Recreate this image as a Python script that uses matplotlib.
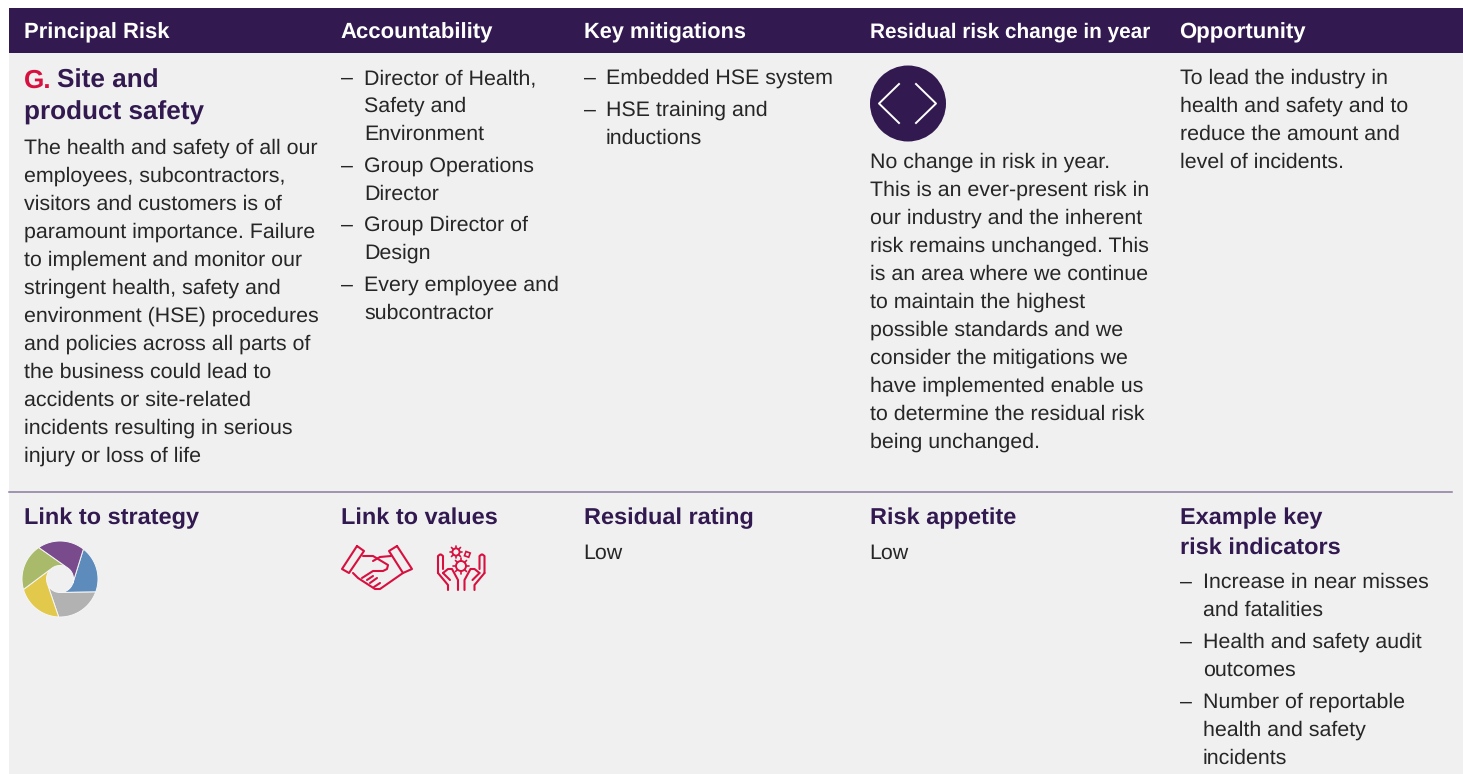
import numpy as np
import matplotlib
matplotlib.use("Agg")
import matplotlib.pyplot as plt
from matplotlib.patches import Rectangle, Polygon, Circle

PURPLE = "#321a50"
RED = "#d7103f"
INK = "#262626"
BG = "#f0f0f0"

headers = ["Principal Risk", "Accountability", "Key mitigations", "Residual risk change in year", "Opportunity"]
header_x = [24, 340.5, 584, 870, 1179.5]
header_size = [15.8, 15.9, 15.7, 14.95, 15.9]

intro = ["The health and safety of all our", "employees, subcontractors,", "visitors and customers is of",
         "paramount importance. Failure", "to implement and monitor our", "stringent health, safety and",
         "environment (HSE) procedures", "and policies across all parts of", "the business could lead to",
         "accidents or site-related", "incidents resulting in serious", "injury or loss of life"]
intro_y = [147, 175, 203, 231, 259, 287, 315, 343, 371, 399, 427, 455]

account = [("–", 341, 77), ("Director of Health,", 364, 77), ("Safety and", 364, 105), ("Environment", 364, 133),
           ("–", 341, 165), ("Group Operations", 364, 165), ("Director", 364, 193),
           ("–", 341, 224), ("Group Director of", 364, 224), ("Design", 364, 252),
           ("–", 341, 284), ("Every employee and", 364, 284), ("subcontractor", 364, 312)]
mitig = [("–", 584, 77), ("Embedded HSE system", 606, 77),
         ("–", 584, 109), ("HSE training and", 606, 109), ("inductions", 606, 137)]
change = ["No change in risk in year.", "This is an ever-present risk in", "our industry and the inherent",
          "risk remains unchanged. This", "is an area where we continue", "to maintain the highest",
          "possible standards and we", "consider the mitigations we", "have implemented enable us",
          "to determine the residual risk", "being unchanged."]
change_y = [161, 189, 217, 245, 273, 301, 329, 357, 385, 413, 441]
opportunity = ["To lead the industry in", "health and safety and to", "reduce the amount and", "level of incidents."]
opportunity_y = [77, 105, 133, 161]

low_heads = [("Link to strategy", 24), ("Link to values", 341), ("Residual rating", 584), ("Risk appetite", 870)]
ratings = [("Low", 583), ("Low", 869.5)]
kri = [("–", 1180, 581), ("Increase in near misses", 1203, 581), ("and fatalities", 1203, 609),
       ("–", 1180, 641), ("Health and safety audit", 1203, 641), ("outcomes", 1203, 669),
       ("–", 1180, 701), ("Number of reportable", 1203, 701), ("health and safety", 1203, 729), ("incidents", 1203, 757)]

strategy_colors = ["#5c8bbc", "#b2b2b2", "#e3c94b", "#a9bb6b", "#794b8d"]

plt.rcParams["font.family"] = ["Liberation Sans", "DejaVu Sans"]
plt.rcParams["text.hinting"] = "no_hinting"
plt.rcParams["text.hinting_factor"] = 8
fig = plt.figure(figsize=(14.63, 7.74), dpi=100, facecolor="white")
ax = fig.add_axes([0, 0, 1, 1])
ax.set_xlim(0, 1463)
ax.set_ylim(774, 0)
ax.axis("off")

ax.add_patch(Rectangle((9, 8), 1454, 766, fc=BG, ec="none"))
ax.add_patch(Rectangle((9, 8), 1454, 45, fc=PURPLE, ec="none"))
ax.plot([9, 1452], [492, 492], color="#8a7a9e", lw=1.1)

BODY = 15.4
def body(x, y, s):
    ax.text(x, y + 7, s, fontsize=BODY, color=INK, va="baseline", ha="left")
def head(x, y, s, color=PURPLE, size=16.9, dy=8):
    ax.text(x, y + dy, s, fontsize=size, color=color, fontweight="bold", va="baseline", ha="left")

for s, x, z in zip(headers, header_x, header_size):
    head(x, 30, s, color="white", size=z)

head(24, 79, "G.", color=RED, size=18.85, dy=9)
head(57, 79, "Site and", size=18.85, dy=9)
head(24, 111, "product safety", size=18.85, dy=9)

for s, y in zip(intro, intro_y):
    body(24, y, s)
for s, x, y in account + mitig + kri:
    body(x, y, s)
for s, y in zip(change, change_y):
    body(870, y, s)
for s, y in zip(opportunity, opportunity_y):
    body(1180, y, s)
for s, x in low_heads:
    head(x, 516, s)
head(1180, 516, "Example key")
head(1180, 546, "risk indicators")
for s, x in ratings:
    body(x, 552, s)

# no-change badge
ax.add_patch(Circle((908, 103.5), 38, fc=PURPLE, ec="none"))
ax.plot([899, 879, 899], [84, 103.5, 123], color="white", lw=1.4)
ax.plot([916, 936, 916], [84, 103.5, 123], color="white", lw=1.4)

# strategy pinwheel
px, py, R, r = 60, 579, 38, 13.5
for k, c in enumerate(strategy_colors):
    a = -18 - 72 * k
    hole = np.radians(np.linspace(a - 72, a, 24))
    outer = np.radians(np.linspace(a + 70, a - 2, 48))
    xs = np.r_[r * np.cos(hole), R * np.cos(outer)] + px
    ys = py - np.r_[r * np.sin(hole), R * np.sin(outer)]
    ax.add_patch(Polygon(np.c_[xs, ys], closed=True, fc=c, ec="#f6f6f6", lw=0.7, joinstyle="round"))

def icon(xs, ys, lw=1.5):
    ax.plot(xs, ys, color=RED, lw=lw, solid_joinstyle="round", solid_capstyle="round")

# handshake icon
icon([357, 364, 349, 342, 357], [546, 551, 573, 569, 546])
icon([397, 389, 403, 412, 397], [546, 551, 573, 569, 546])
icon([363, 373, 388, 387, 383, 373, 362], [556, 556, 565, 569, 571, 571, 578])
icon([391, 380, 373], [556, 557, 561])
icon([403, 380, 375, 358, 353], [573, 589, 589, 578, 573])
icon([373, 367], [576, 580])
icon([377, 370], [578, 583])
icon([380, 374], [583, 587])

# caring hands icon
for sign in (1, -1):
    mx = lambda vals: [461.25 + sign * (v - 461.25) for v in vals]
    icon(mx([438, 438, 440, 441, 443, 443]), [573, 556, 554.5, 554.5, 556, 569])
    icon(mx([438, 448, 448]), [573, 585, 590])
    icon(mx([443, 448, 452, 458, 458]), [573, 569, 569, 580, 590])
    icon(mx([443, 450]), [573, 580])
for gx, gy, gr in [(456, 552, 3.6), (461, 566, 5)]:
    ax.add_patch(Circle((gx, gy), gr, fc="none", ec=RED, lw=1.4))
    for ang in np.radians(np.arange(0, 360, 45)):
        icon([gx + gr * np.cos(ang), gx + (gr + 2.8) * np.cos(ang)],
             [gy + gr * np.sin(ang), gy + (gr + 2.8) * np.sin(ang)], lw=1.2)
ax.add_patch(Rectangle((466, 551.5), 4.5, 4.5, angle=20, fc="none", ec=RED, lw=1.2))

fig.savefig("out.png", dpi=100)
